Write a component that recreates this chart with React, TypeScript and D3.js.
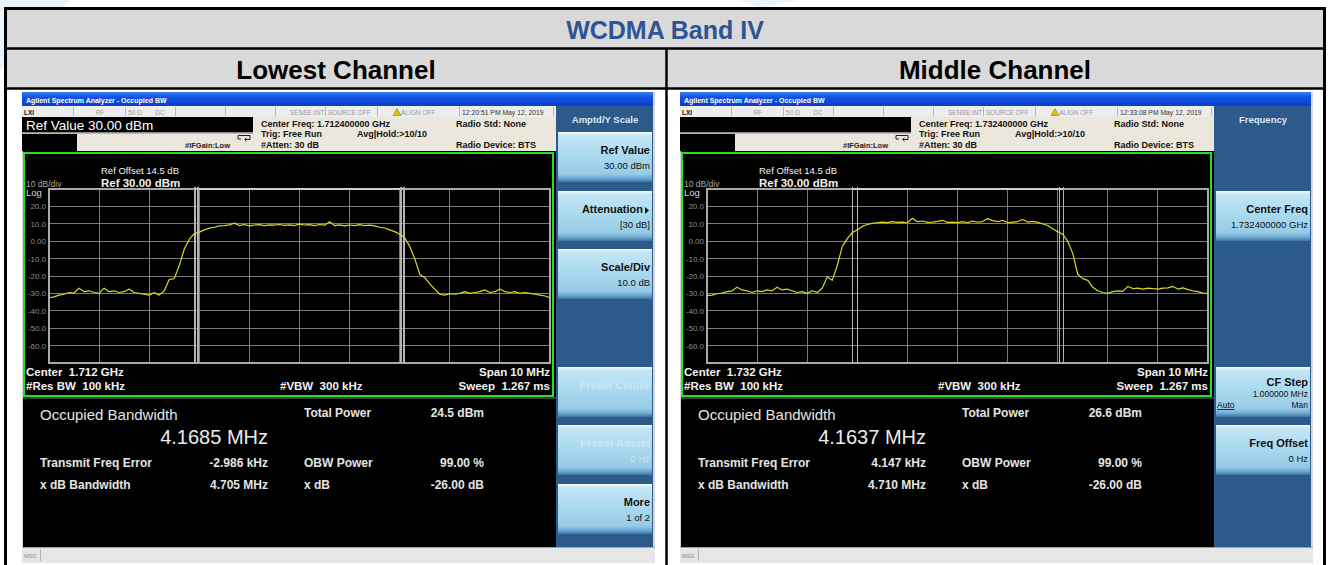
import React from "react";
import * as d3 from "d3";

const FONT = "'Liberation Sans', Arial, Helvetica, sans-serif";

// ---------------- data ----------------
const tableTitle = "WCDMA Band IV";
const channelNames = ["Lowest Channel", "Middle Channel"];

const sweepStartMHz = -5;
const sweepStopMHz = 5;
const refLevelDbm = 30;
const dbPerDiv = 10;
const yTickValues = [20, 10, 0, -10, -20, -30, -40, -50, -60];
const yTickLabels = ["20.0", "10.0", "0.00", "-10.0", "-20.0", "-30.0", "-40.0", "-50.0", "-60.0"];

// trace values (dBm), one every 0.1 MHz from -5 MHz to +5 MHz
const lowestTrace = [
  -32.5, -32, -31, -30.5, -29.5, -29.8, -27, -29, -28.5, -29.5,
  -30, -27, -29, -28.5, -29.5, -29, -27.5, -29.5, -30, -30.5,
  -31, -29.5, -31, -28.5, -22, -21.5, -14, -4.5, 1, 4.3,
  5.2, 6.5, 7.5, 8, 8.8, 9, 9.4, 10.4, 9, 9.6,
  8.8, 9.3, 9.5, 9, 9.4, 9.2, 9.6, 9.1, 9.4, 9.0,
  9.8, 9.3, 9.5, 9.0, 9.6, 9.2, 11.2, 9.0, 9.4, 8.8,
  9.3, 9.0, 9.5, 9.0, 9.2, 8.8, 8.0, 7.6, 6.5, 5.5,
  4, 2, -3, -10, -19, -21, -24.5, -27.5, -30.5, -31,
  -30.2, -30.5, -30, -29, -30, -29.5, -29, -28, -29.5, -29,
  -27.5, -29, -29.5, -29, -30, -29.5, -30, -30.5, -31, -31.5,
  -32.5,
];
const middleTrace = [
  -31.3, -31, -30.2, -29.8, -29, -28.5, -26.5, -28, -28.5, -29.5,
  -28.5, -29, -28, -28.5, -26.5, -28, -27.5, -28.5, -29.5, -29,
  -30, -28.5, -29.5, -27, -20.5, -22.5, -14, -3, 1.5, 5,
  6.5, 8.5, 9.6, 10.2, 10.6, 11, 10.7, 11.3, 10.8, 11,
  10.6, 13.2, 11.2, 11.6, 10.8, 11, 11.4, 12, 10.8, 11,
  10.7, 11.2, 10.6, 11.5, 10.9, 11.3, 13, 11.8, 11.2, 12,
  10.6, 11, 11.3, 12.5, 11, 11.4, 10.8, 10, 9, 7.2,
  5.5, 4, 0, -7, -19, -21.5, -22.5, -26.5, -28.5, -29.5,
  -30, -29, -28.5, -28.8, -26, -27.2, -27, -27.5, -27, -27.3,
  -27.5, -27, -26.8, -26, -27.5, -26.8, -27.8, -28.5, -29, -29.8,
  -30,
];
const lowestMarkersMHz = [-2.086, -2.026, 2.026, 2.086];
const middleMarkersMHz = [-2.1, -2.0, 2.03, 2.12];

const centerFreqs = ["1.712400000 GHz", "1.732400000 GHz"];
const centerShort = ["1.712 GHz", "1.732 GHz"];
const timestamps = ["12:20:51 PM May 12, 2019", "12:33:08 PM May 12, 2019"];
const refValueTexts = ["Ref Value 30.00 dBm", ""];
const occupiedBw = ["4.1685 MHz", "4.1637 MHz"];
const totalPower = ["24.5 dBm", "26.6 dBm"];
const freqError = ["-2.986 kHz", "4.147 kHz"];
const xdbBandwidth = ["4.705 MHz", "4.710 MHz"];
const obwPower = "99.00 %";
const xdbValue = "-26.00 dB";
const panelTitles = ["Amptd/Y Scale", "Frequency"];

const lowestSoftkeys = [
  { slot: 0, title: "Ref Value", value: "30.00 dBm" },
  { slot: 1, title: "Attenuation", value: "[30 dB]", arrow: true },
  { slot: 2, title: "Scale/Div", value: "10.0 dB" },
  { slot: 4, title: "Presel Center", disabled: true },
  { slot: 5, title: "Presel Adjust", value: "0 Hz", disabled: true },
  { slot: 6, title: "More", value: "1 of 2" },
];
const middleSoftkeys = [
  { slot: 1, title: "Center Freq", value: "1.732400000 GHz" },
  { slot: 4, title: "CF Step", value: "1.000000 MHz", auto: true },
  { slot: 5, title: "Freq Offset", value: "0 Hz" },
];
const slotTops = [132, 191, 249, 308, 367, 425, 484];

const PRE = { whiteSpace: "pre" } as any;

// ---------------- components ----------------
function Softkey({ k }: any) {
  const top = slotTops[k.slot];
  const tc = k.disabled ? "#cde6f3" : "#111";
  if (k.auto) {
    return (
      <g>
        <rect x={558} y={top} width={94} height={50} fill="url(#keyGrad)" />
        <text x={650} y={top + 19} textAnchor="end" fontWeight="bold" fontSize={11} fill={tc}>{k.title}</text>
        <text x={650} y={top + 30} textAnchor="end" fontSize={8.5} fill={tc}>{k.value}</text>
        <text x={559} y={top + 41} fontSize={8.5} fill={tc} textDecoration="underline">Auto</text>
        <text x={650} y={top + 41} textAnchor="end" fontSize={8.5} fill={tc}>Man</text>
      </g>
    );
  }
  const tx = k.arrow ? 643 : 650;
  return (
    <g>
      <rect x={558} y={top} width={94} height={50} fill="url(#keyGrad)" />
      <text x={tx} y={top + 22} textAnchor="end" fontWeight="bold" fontSize={11} fill={tc}>{k.title}</text>
      {k.value ? (
        <text x={650} y={top + 37} textAnchor="end" fontSize={9.5} fill={tc}>{k.value}</text>
      ) : null}
      {k.arrow ? <path d={`M645,${top + 16} l4,3.5 l-4,3.5z`} fill="#111" /> : null}
    </g>
  );
}

function Screen({ dx, idx, trace, markers, softkeys }: any) {
  const x = d3.scaleLinear().domain([sweepStartMHz, sweepStopMHz]).range([49, 550]);
  const y = d3.scaleLinear().domain([refLevelDbm, refLevelDbm - 10 * dbPerDiv]).range([189, 363]);
  const step = (sweepStopMHz - sweepStartMHz) / (trace.length - 1);
  const linePath = d3
    .line<number>()
    .x((_d, i) => x(sweepStartMHz + i * step))
    .y((d) => y(d))(trace);
  const vGrid = d3.range(1, 10).map((i) => sweepStartMHz + (i * (sweepStopMHz - sweepStartMHz)) / 10);
  const statusDividers = [73, 125, 175, 225, 275, 325, 377, 459, 553];
  const grey = "#9a9a9a";
  const white = "#f2f2f2";

  return (
    <g transform={`translate(${dx},0)`}>
      {/* window frame */}
      <rect x={22} y={92} width={633} height={471} fill="#d6d6d6" />
      <rect x={22} y={92} width={631} height={14} fill="url(#titleGrad)" />
      <text x={26} y={102.5} fontSize={7} fontWeight="bold" fill="#ffffff">
        Agilent Spectrum Analyzer - Occupied BW
      </text>

      {/* status row */}
      <rect x={22} y={106} width={534} height={11} fill="#ededed" />
      {statusDividers.map((d) => (
        <rect key={d} x={d} y={107} width={1} height={9} fill="#b8b8b8" />
      ))}
      <text x={24} y={114.5} fontSize={6.5} fontWeight="bold" fill="#111">LXI</text>
      <text x={100} y={114.5} fontSize={6.5} fill={grey} textAnchor="middle">RF</text>
      <text x={135} y={114.5} fontSize={6.5} fill={grey} textAnchor="middle">50 Ω</text>
      <text x={160} y={114.5} fontSize={6.5} fill={grey} textAnchor="middle">DC</text>
      <text x={290} y={114.5} fontSize={6.5} fill={grey}>SENSE:INT</text>
      <text x={328} y={114.5} fontSize={6.5} fill={grey}>SOURCE OFF</text>
      <path d="M397,108.5 l4,7 l-8,0z" fill="#e2c400" stroke="#7a6a00" strokeWidth={0.5} />
      <text x={401} y={114.5} fontSize={6.5} fill={grey}>ALIGN OFF</text>
      <text x={462} y={114.5} fontSize={6.8} fill="#333">{timestamps[idx]}</text>

      {/* header info area */}
      <rect x={22} y={117} width={534} height={34} fill="#ece7dc" />
      <rect x={22} y={117} width={231} height={15} fill="#000" />
      {refValueTexts[idx] ? (
        <text x={26} y={129.5} fontSize={13.5} fill="#ffffff">{refValueTexts[idx]}</text>
      ) : null}
      <rect x={22} y={132} width={231} height={1.5} fill="#8a8a8a" />
      <rect x={22} y={134} width={55} height={17} fill="#000" />
      <path d="M238,135.5 h12 v4 h-5 m1.5,-1.8 l-1.8,1.8 l1.8,1.8 M238,135.5 v3.5 h3" fill="none" stroke="#222" strokeWidth={1} />
      <text x={185} y={148} fontSize={7.5} fontWeight="bold" fill="#222">#IFGain:Low</text>
      <text x={261} y={126.5} fontSize={9} fontWeight="bold" fill="#111">Center Freq: {centerFreqs[idx]}</text>
      <text x={261} y={137} fontSize={9} fontWeight="bold" fill="#111">Trig: Free Run</text>
      <text x={261} y={147.5} fontSize={9} fontWeight="bold" fill="#111">#Atten: 30 dB</text>
      <text x={357} y={137} fontSize={9} fontWeight="bold" fill="#111">Avg|Hold:&gt;10/10</text>
      <text x={456} y={126.5} fontSize={9} fontWeight="bold" fill="#111">Radio Std: None</text>
      <text x={456} y={147.5} fontSize={9} fontWeight="bold" fill="#111">Radio Device: BTS</text>

      {/* black display */}
      <rect x={23} y={151} width={533} height={396} fill="#000" />
      <rect x={24} y={153} width={529} height={243} fill="none" stroke="#25e025" strokeWidth={2} />
      <rect x={23} y={397} width={533} height={2} fill="#3a3a3a" />

      {/* plot annotations */}
      <text x={101} y={174} fontSize={9.5} fill={white}>Ref Offset 14.5 dB</text>
      <text x={101} y={186.5} fontSize={11.5} fontWeight="bold" fill={white}>Ref 30.00 dBm</text>
      <text x={26} y={186.5} fontSize={8.5} fill="#a8a8a8">10 dB/div</text>
      <text x={26} y={196} fontSize={9.5} fill="#d8d8d8">Log</text>

      {/* grid */}
      <g shapeRendering="crispEdges">
        {vGrid.map((f) => (
          <line key={"v" + f} x1={x(f)} x2={x(f)} y1={189} y2={363} stroke="#7c7c7c" strokeWidth={1} />
        ))}
        {yTickValues.map((v) => (
          <line key={"h" + v} x1={49} x2={550} y1={y(v)} y2={y(v)} stroke="#7c7c7c" strokeWidth={1} />
        ))}
        <rect x={49} y={189} width={501} height={174} fill="none" stroke="#a8a8a8" strokeWidth={1.2} />
        <line x1={x(markers[0])} x2={x(markers[3])} y1={189} y2={189} stroke="#cfcfcf" strokeWidth={1.3} />
        {markers.map((m: number, i: number) => (
          <line key={"m" + i} x1={x(m)} x2={x(m)} y1={187} y2={363} stroke="#b4b4b4" strokeWidth={1.1} />
        ))}
      </g>
      {yTickValues.map((v, i) => (
        <text key={"t" + v} x={46} y={y(v) + 3} textAnchor="end" fontSize={8} fill="#8e8e8e">
          {yTickLabels[i]}
        </text>
      ))}
      <path d={linePath || ""} fill="none" stroke="#dcd820" strokeWidth={1.2} strokeLinejoin="round" />

      <text x={26} y={376} fontSize={11.5} fontWeight="bold" fill={white} xmlSpace="preserve" style={PRE}>{"Center  " + centerShort[idx]}</text>
      <text x={26} y={390} fontSize={11.5} fontWeight="bold" fill={white} xmlSpace="preserve" style={PRE}>{"#Res BW  100 kHz"}</text>
      <text x={280} y={390} fontSize={11.5} fontWeight="bold" fill={white} xmlSpace="preserve" style={PRE}>{"#VBW  300 kHz"}</text>
      <text x={550} y={376} textAnchor="end" fontSize={11.5} fontWeight="bold" fill={white}>Span 10 MHz</text>
      <text x={550} y={390} textAnchor="end" fontSize={11.5} fontWeight="bold" fill={white} xmlSpace="preserve" style={PRE}>{"Sweep  1.267 ms"}</text>

      {/* measurement results */}
      <text x={40} y={420} fontSize={15} fill="#e4e4e4">Occupied Bandwidth</text>
      <text x={268} y={444} textAnchor="end" fontSize={20} fill="#ececec">{occupiedBw[idx]}</text>
      <text x={304} y={417} fontSize={12} fontWeight="bold" fill="#e4e4e4">Total Power</text>
      <text x={484} y={417} textAnchor="end" fontSize={12} fontWeight="bold" fill="#e4e4e4">{totalPower[idx]}</text>
      <text x={40} y={467} fontSize={12} fontWeight="bold" fill="#e4e4e4">Transmit Freq Error</text>
      <text x={268} y={467} textAnchor="end" fontSize={12} fontWeight="bold" fill="#e4e4e4">{freqError[idx]}</text>
      <text x={304} y={467} fontSize={12} fontWeight="bold" fill="#e4e4e4">OBW Power</text>
      <text x={484} y={467} textAnchor="end" fontSize={12} fontWeight="bold" fill="#e4e4e4">{obwPower}</text>
      <text x={40} y={489} fontSize={12} fontWeight="bold" fill="#e4e4e4">x dB Bandwidth</text>
      <text x={268} y={489} textAnchor="end" fontSize={12} fontWeight="bold" fill="#e4e4e4">{xdbBandwidth[idx]}</text>
      <text x={304} y={489} fontSize={12} fontWeight="bold" fill="#e4e4e4">x dB</text>
      <text x={484} y={489} textAnchor="end" fontSize={12} fontWeight="bold" fill="#e4e4e4">{xdbValue}</text>

      {/* softkey panel */}
      <rect x={556} y={106} width={97} height={441} fill="#2c5b8b" />
      <text x={605} y={123} textAnchor="middle" fontSize={9.5} fontWeight="bold" fill="#dde7f1">
        {panelTitles[idx]}
      </text>
      {softkeys.map((k: any) => (
        <Softkey key={k.slot} k={k} />
      ))}

      {/* message bar */}
      <rect x={22} y={547} width={633} height={16} fill="#e6e6e6" />
      <rect x={22} y={547} width={633} height={1} fill="#a0a0a0" />
      <rect x={40} y={549} width={1} height={12} fill="#b0b0b0" />
      <text x={24} y={557.5} fontSize={5.5} fill="#888">MSG</text>
    </g>
  );
}

export default function App() {
  return (
    <svg
      width={1330}
      height={565}
      style={{ position: "absolute", left: 0, top: 0, display: "block" }}
      fontFamily={FONT}
    >
      <defs>
        <linearGradient id="titleGrad" x1="0" y1="0" x2="0" y2="1">
          <stop offset="0" stopColor="#3a7af2" />
          <stop offset="0.4" stopColor="#0f52e2" />
          <stop offset="1" stopColor="#0a3fc6" />
        </linearGradient>
        <linearGradient id="keyGrad" x1="0" y1="0" x2="0" y2="1">
          <stop offset="0" stopColor="#ffffff" />
          <stop offset="0.06" stopColor="#c4e7f6" />
          <stop offset="0.5" stopColor="#a8d8ee" />
          <stop offset="0.84" stopColor="#97cbe5" />
          <stop offset="0.93" stopColor="#6aa6cd" />
          <stop offset="1" stopColor="#3c74a4" />
        </linearGradient>
      </defs>
      <rect width={1330} height={565} fill="#ffffff" />
      <path d="M0,0 L70,0 L0,70 Z" fill="#e7f2fb" />
      <path d="M740,0 L800,0 L760,8 Z" fill="#eaf4fb" />

      {/* table backgrounds */}
      <rect x={6} y={9} width={1318} height={39} fill="#d9d9d9" />
      <rect x={6} y={49} width={1318} height={39} fill="#d9d9d9" />
      <rect x={6} y={89} width={1318} height={480} fill="#ffffff" />

      <Screen dx={0} idx={0} trace={lowestTrace} markers={lowestMarkersMHz} softkeys={lowestSoftkeys} />
      <Screen dx={658} idx={1} trace={middleTrace} markers={middleMarkersMHz} softkeys={middleSoftkeys} />

      {/* table borders */}
      <g fill="none" stroke="#000">
        <rect x={5.5} y={8.5} width={1319} height={600} strokeWidth={3} />
        <line x1={5} x2={1325} y1={48.5} y2={48.5} strokeWidth={2.5} />
        <line x1={5} x2={1325} y1={88.5} y2={88.5} strokeWidth={2.5} />
        <line x1={666.5} x2={666.5} y1={48} y2={565} strokeWidth={2.5} />
      </g>

      <text x={665} y={38.5} textAnchor="middle" fontSize={25} fontWeight="bold" fill="#2f5496">
        {tableTitle}
      </text>
      <text x={336} y={78.5} textAnchor="middle" fontSize={26} fontWeight="bold" fill="#000">
        {channelNames[0]}
      </text>
      <text x={995} y={78.5} textAnchor="middle" fontSize={26} fontWeight="bold" fill="#000">
        {channelNames[1]}
      </text>
    </svg>
  );
}
